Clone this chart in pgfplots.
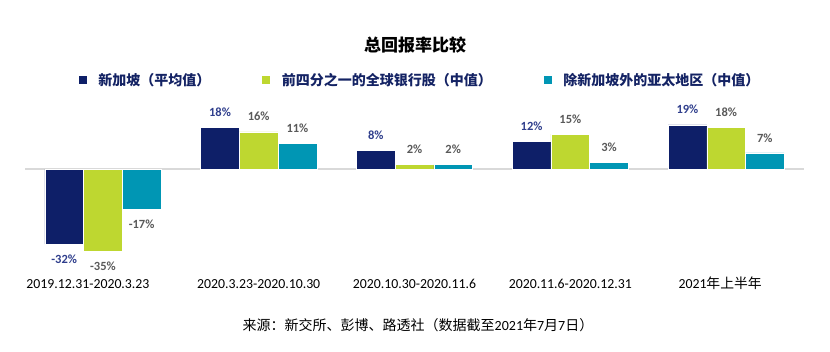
\documentclass[border=0pt]{standalone}
\usepackage{pgfplots}
\pgfplotsset{compat=1.18}
\usepackage{fontspec}
\setmainfont{Carlito}
\newfontfamily\cjk{Noto Sans CJK SC}
\definecolor{cnavy}{RGB}{14,31,104}
\definecolor{cgreen}{RGB}{190,215,48}
\definecolor{cteal}{RGB}{0,150,180}
\definecolor{labnavy}{RGB}{47,62,140}
\definecolor{labgray}{RGB}{89,89,89}
\definecolor{legnavy}{RGB}{20,35,100}
\definecolor{czero}{RGB}{217,217,217}
\pgfplotstableread{
x y
0 -32
1 18
2 8
3 12
4 19
}\sg
\pgfplotstableread{
x y
0 -35
1 16
2 2
3 15
4 18
}\gb
\pgfplotstableread{
x y
0 -17
1 11
2 2
3 3
4 7
}\ap
\begin{document}
\begin{tikzpicture}[x=1pt,y=1pt]
\path[use as bounding box] (0,0) rectangle (830,352);
\node[font=\cjk\bfseries\fontsize{17}{20}\selectfont, text=black] at (415,307) {总回报率比较};
\node[font=\cjk\fontsize{14}{16}\selectfont, text=black] at (418,27) {来源：新交所、彭博、路透社（数据截至{\rmfamily 2021}年{\rmfamily 7}月{\rmfamily 7}日）};
\begin{axis}[
  at={(25pt,89.1pt)}, anchor=south west, scale only axis,
  width=779pt, height=145.1pt,
  xmin=-0.5, xmax=4.5, ymin=-40, ymax=22,
  axis line style={draw=none},
  major tick length=0pt,
  ytick=\empty,
  extra y ticks={0}, extra y tick labels={},
  extra y tick style={grid=major, major grid style={czero, line width=2pt}},
  xtick={0,1,2,3,4},
  xticklabels={2019.12.31-2020.3.23\kern30pt, 2020.3.23-2020.10.30, 2020.10.30-2020.11.6, 2020.11.6-2020.12.31, 2021{\cjk 年上半年}\kern12pt},
  xticklabel style={font=\fontsize{13.8}{16}\selectfont, anchor=base, yshift=-25.5pt},
  ybar=0pt, bar width=38.7pt,
  point meta=y,
  nodes near coords={\pgfmathprintnumber[assume math mode=true, fixed, precision=0]{\pgfplotspointmeta}\%},
  nodes near coords align={vertical},
  every node near coord/.append style={font=\bfseries\fontsize{12.5}{14}\selectfont, inner ysep=10.5pt, inner xsep=1pt},
  legend columns=3,
  legend style={at={(axis description cs:0.0693,1.2605)}, anchor=west, draw=none, fill=none,
    inner sep=0pt, outer sep=0pt,
    font=\cjk\bfseries\fontsize{14}{16}\selectfont, text=legnavy,
    nodes={inner sep=0pt},
    /tikz/every odd column/.append style={column sep=12pt},
    /tikz/every even column/.append style={column sep=52pt}},
]
\addplot[fill=cnavy, draw=white, line width=0.5pt,
  every node near coord/.append style={text=labnavy},
  legend image code/.code={\fill[cnavy] (0pt,-3.5pt) rectangle (7pt,3.5pt);}]
  table[x=x, y=y] {\sg};
\addlegendentry{新加坡（平均值）}
\addplot[fill=cgreen, draw=white, line width=0.5pt,
  every node near coord/.append style={text=labgray},
  legend image code/.code={\fill[cgreen] (0pt,-3.5pt) rectangle (7pt,3.5pt);}]
  table[x=x, y=y] {\gb};
\addlegendentry{前四分之一的全球银行股（中值）}
\addplot[fill=cteal, draw=white, line width=0.5pt,
  every node near coord/.append style={text=labgray},
  legend image code/.code={\fill[cteal] (0pt,-3.5pt) rectangle (7pt,3.5pt);}]
  table[x=x, y=y] {\ap};
\addlegendentry{除新加坡外的亚太地区（中值）}
\end{axis}
\end{tikzpicture}
\end{document}
